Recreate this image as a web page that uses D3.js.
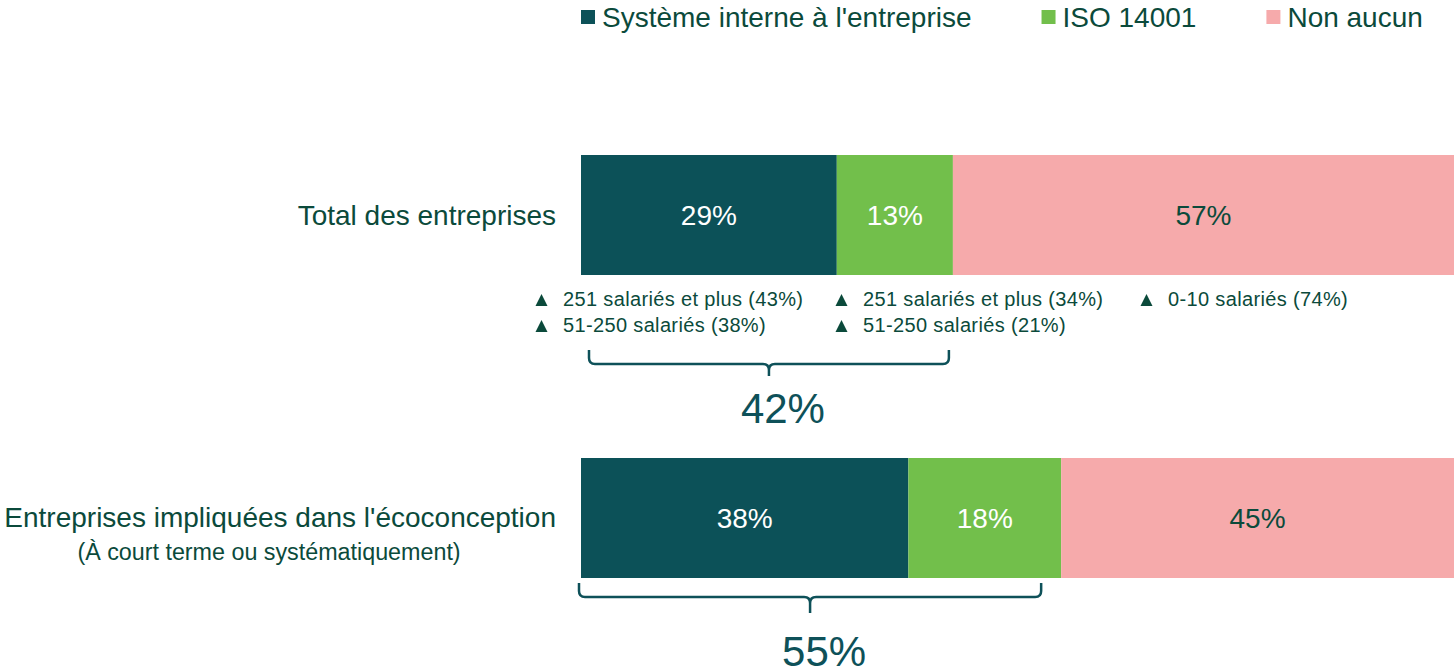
<!DOCTYPE html>
<html>
<head>
<meta charset="utf-8">
<script src="https://cdn.jsdelivr.net/npm/d3@7"></script>
<style>
  body { margin: 0; background: #fff; }
  svg { display: block; font-family: "Liberation Sans", Arial, sans-serif; }
</style>
</head>
<body>
<div id="chart"></div>
<script>
// data (bar widths suggest unrounded shares, labels are rounded)
var categories = ["Total des entreprises", "Entreprises impliquées dans l'écoconception"];
var subLabels = ["", "(À court terme ou systématiquement)"];
var seriesNames = ["Système interne à l'entreprise", "ISO 14001", "Non aucun"];
var interne = [29.3, 37.5];
var iso = [13.3, 17.5];
var aucun = [57.4, 45];
var braceTotals = [42, 55];
// notes under the first bar, one list per series
var notesInterne = ["251 salariés et plus (43%)", "51-250 salariés (38%)"];
var notesIso = ["251 salariés et plus (34%)", "51-250 salariés (21%)"];
var notesAucun = ["0-10 salariés (74%)"];

var colors = ["#0c5158", "#72bf4b", "#f6aaab"];
var labelColors = ["#ffffff", "#ffffff", "#0b4a3b"];
var textColor = "#0b4a3b";
var teal = "#0e5159";

var width = 1454, height = 670;

var svg = d3.select("#chart").append("svg")
  .attr("width", width)
  .attr("height", height);

var rows = categories.map(function(c, i) {
  return { name: c, sub: subLabels[i], values: [interne[i], iso[i], aucun[i]] };
});

var bh = 120;
var barTops = [155, 458];

rows.forEach(function(r, i) {
  var total = d3.sum(r.values);
  var x = d3.scaleLinear().domain([0, total]).range([581, 1454]);
  r.x = x;
  var top = barTops[i];
  var acc = 0;
  var segs = r.values.map(function(v, k) {
    var s = { v: v, k: k, x0: acc, x1: acc + v };
    acc += v;
    return s;
  });
  var g = svg.append("g");
  g.selectAll("rect").data(segs).enter().append("rect")
    .attr("x", function(d) { return x(d.x0); })
    .attr("y", top)
    .attr("width", function(d) { return x(d.x1) - x(d.x0); })
    .attr("height", bh)
    .style("fill", function(d) { return colors[d.k]; });
  g.selectAll("text").data(segs).enter().append("text")
    .attr("x", function(d) { return (x(d.x0) + x(d.x1)) / 2; })
    .attr("y", top + bh / 2)
    .attr("dy", "0.35em")
    .attr("text-anchor", "middle")
    .style("font-size", "28px")
    .style("fill", function(d) { return labelColors[d.k]; })
    .text(function(d) { return Math.round(d.v) + "%"; });

  // category label
  svg.append("text")
    .attr("x", 556).attr("y", top + bh / 2 - (r.sub ? 1 : 0))
    .attr("dy", "0.35em")
    .attr("text-anchor", "end")
    .style("font-size", "28px").style("fill", textColor)
    .text(r.name);
  if (r.sub) {
    svg.append("text")
      .attr("x", 269).attr("y", top + bh / 2 + 42)
      .attr("text-anchor", "middle")
      .style("font-size", "23.3px").style("fill", textColor)
      .text(r.sub);
  }
});

// legend
var legend = svg.append("g");
var lx = 581;
seriesNames.forEach(function(n, k) {
  legend.append("rect")
    .attr("x", lx).attr("y", 10)
    .attr("width", 14).attr("height", 14)
    .style("fill", colors[k]);
  var t = legend.append("text")
    .attr("x", lx + 21).attr("y", 27)
    .style("font-size", "28px").style("fill", textColor)
    .text(n);
  lx += 21 + t.node().getComputedTextLength() + 70;
});

// notes under the first bar
var noteCols = [536, 836, 1141];
var noteLists = [notesInterne, notesIso, notesAucun];
noteLists.forEach(function(list, c) {
  list.forEach(function(n, j) {
    var by = 306 + j * 26;
    var p = d3.path();
    p.moveTo(noteCols[c] + 5.5, by - 12);
    p.lineTo(noteCols[c] + 11.5, by);
    p.lineTo(noteCols[c] - 0.5, by);
    p.closePath();
    svg.append("path")
      .attr("d", p.toString())
      .style("fill", textColor);
    svg.append("text")
      .attr("x", noteCols[c] + 27).attr("y", by)
      .style("font-size", "20px")
      .style("letter-spacing", "0.35px")
      .style("fill", textColor)
      .text(n);
  });
});

// braces
var braceTop = [350, 583], braceMid = [364, 597], braceTip = [376, 613];
var braceInset = [[8, -4], [-2, -20]];
var braceTextY = [423, 666];
rows.forEach(function(r, i) {
  var x = r.x;
  var x1 = x(0) + braceInset[i][0];
  var x2 = x(r.values[0] + r.values[1]) + braceInset[i][1];
  var cx = (x1 + x2) / 2, rr = 6;
  var y0 = braceTop[i], y1 = braceMid[i], y2 = braceTip[i];
  var p = d3.path();
  p.moveTo(x1, y0);
  p.lineTo(x1, y1 - rr);
  p.quadraticCurveTo(x1, y1, x1 + rr, y1);
  p.lineTo(cx - rr, y1);
  p.quadraticCurveTo(cx, y1, cx, y1 + rr);
  p.lineTo(cx, y2);
  p.moveTo(cx, y1 + rr);
  p.quadraticCurveTo(cx, y1, cx + rr, y1);
  p.lineTo(x2 - rr, y1);
  p.quadraticCurveTo(x2, y1, x2, y1 - rr);
  p.lineTo(x2, y0);
  svg.append("path")
    .attr("d", p.toString())
    .style("fill", "none")
    .style("stroke", teal)
    .style("stroke-width", 2.5);
  svg.append("text")
    .attr("x", cx + 14).attr("y", braceTextY[i])
    .attr("text-anchor", "middle")
    .style("font-size", "42px")
    .style("fill", teal)
    .text(braceTotals[i] + "%");
});
</script>
</body>
</html>
